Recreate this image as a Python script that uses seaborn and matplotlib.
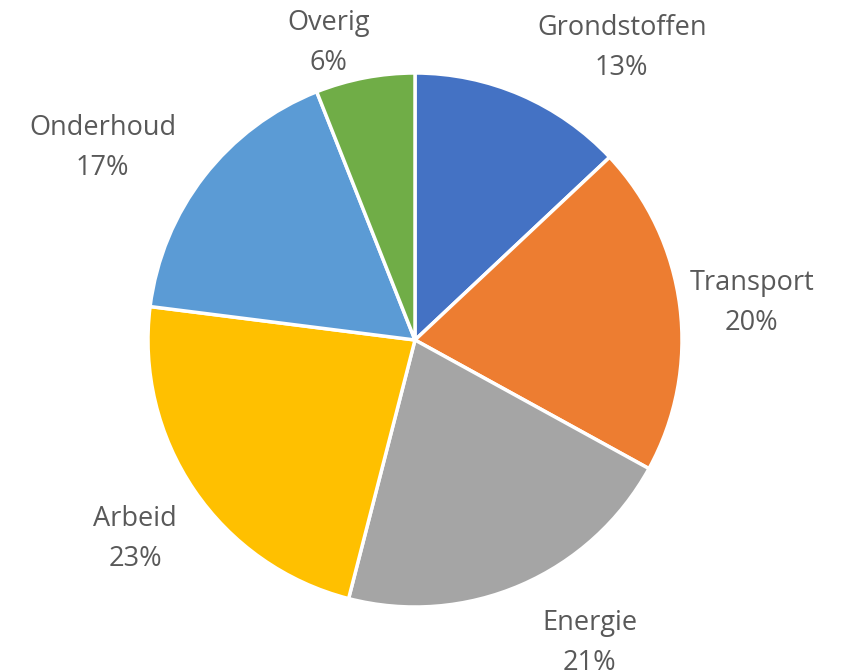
import numpy as np
import matplotlib.pyplot as plt
import seaborn as sns

# Data
categories = ["Grondstoffen", "Transport", "Energie", "Arbeid", "Onderhoud", "Overig"]
shares = [13, 20, 21, 23, 17, 6]
colors = ["#4472C4", "#ED7D31", "#A5A5A5", "#FFC000", "#5B9BD5", "#70AD47"]

# label placement (distance from centre in radii, angle shift in degrees)
label_dist = [1.35, 1.27, 1.30, 1.28, 1.38, 1.17]
label_shift = [-11.6, -0.4, 6.8, 0.8, 5.8, 5.2]

sns.set_theme(style="white")
plt.rcParams["font.family"] = ["Open Sans", "DejaVu Sans"]

fig = plt.figure(figsize=(8.54, 6.72), dpi=100)
ax = fig.add_axes([148 / 854, 65 / 672, 534 / 854, 534 / 672])

labels = [f"{c}\n{v}%" for c, v in zip(categories, shares)]
wedges, texts = ax.pie(shares, colors=colors, startangle=90, counterclock=False,
                       labels=labels, radius=1,
                       wedgeprops=dict(edgecolor="white", linewidth=2.5),
                       textprops=dict(color="#595959", fontsize=19.5, linespacing=1.58))

# move labels to their spots
cum = np.cumsum([0] + shares)
for i, t in enumerate(texts):
    mid = 90 - (cum[i] + shares[i] / 2) / sum(shares) * 360 + label_shift[i]
    r = label_dist[i]
    t.set_position((r * np.cos(np.radians(mid)), r * np.sin(np.radians(mid)) - 0.012))
    t.set_ha("center")
    t.set_va("center")
    t.set_multialignment("center")

ax.set_xlim(-1, 1)
ax.set_ylim(-1, 1)
ax.set_aspect("equal")
ax.axis("off")

fig.savefig("out.png", dpi=100)
